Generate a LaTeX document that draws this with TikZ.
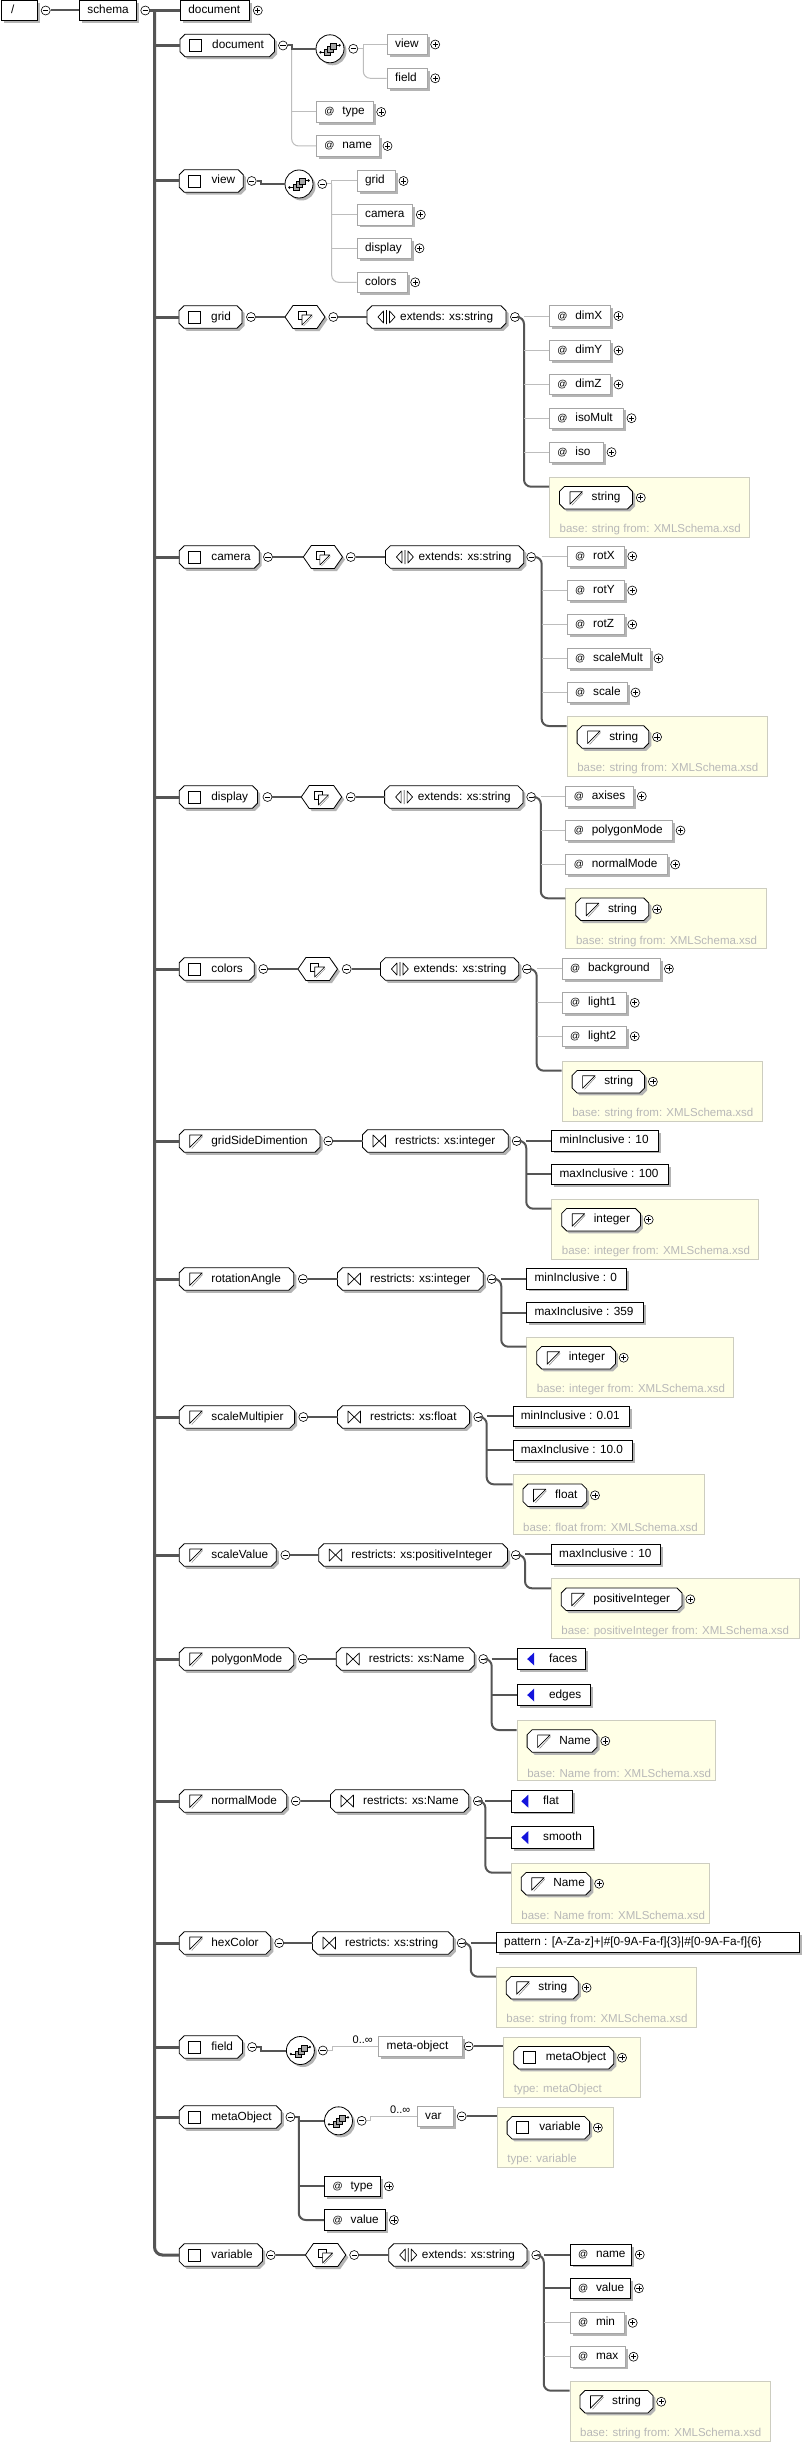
\documentclass[tikz,border=0pt]{standalone}
\usepackage{fontspec}
\setmainfont{Liberation Sans}
\usetikzlibrary{shadows}
\definecolor{linedk}{HTML}{555555}
\definecolor{linelt}{HTML}{BDBDBD}
\definecolor{shadowc}{HTML}{B4B4B4}
\definecolor{optc}{HTML}{A6A6A6}
\definecolor{yfill}{HTML}{FFFFE6}
\definecolor{yline}{HTML}{CDCDC0}
\definecolor{basec}{HTML}{B8B8B8}
\definecolor{enumc}{HTML}{1414DC}
\newcommand\dgfont{\fontsize{11.8}{14}\selectfont}
\newcommand\dgat{\makebox[18pt][l]{\fontsize{10}{10}\selectfont @}}
\tikzset{
 txt/.style={inner sep=0pt,font=\dgfont,text height=8.5pt,text depth=2.5pt},
 bx/.style={draw=black,line width=.8pt},
 rb/.style={txt,draw=black,fill=white,line width=.8pt,minimum height=20.5pt,
   drop shadow={shadow xshift=2.5pt,shadow yshift=-2.5pt,fill=shadowc,opacity=1}},
 ob/.style={rb,draw=optc},
 ybx/.style={draw=yline,fill=yfill,line width=.8pt,inner sep=0pt},
 basetxt/.style={inner sep=0pt,font=\fontsize{11.5}{13}\selectfont,text=basec},
 card/.style={inner sep=0pt,font=\fontsize{11}{13}\selectfont},
 mc/.style={circle,draw=black,fill=white,line width=.6pt,minimum size=9pt,inner sep=0pt,
   path picture={\draw[line width=.7pt] ([xshift=-2.6pt]path picture bounding box.center)--([xshift=2.6pt]path picture bounding box.center);}},
 pc/.style={circle,draw=black,fill=white,line width=.6pt,minimum size=9pt,inner sep=0pt,
   path picture={\draw[line width=.7pt] ([xshift=-2.6pt]path picture bounding box.center)--([xshift=2.6pt]path picture bounding box.center)
   ([yshift=-2.6pt]path picture bounding box.center)--([yshift=2.6pt]path picture bounding box.center);}},
 dk/.style={draw=linedk,line width=2pt},
 tr/.style={draw=linedk,line width=3pt},
 lt/.style={draw=linelt,line width=1pt},
}
% icons
\newcommand\icoElem[2]{\begin{scope}[shift={(#1,#2)}]\draw[line width=.8pt,fill=white] (9.5,-6) rectangle (21.5,6);\end{scope}}
\newcommand\icoSimple[2]{\begin{scope}[shift={(#1,#2)}]\draw[line width=.7pt,fill=white,line join=round] (10.5,6.5)--(10.5,-6)--(23,-6)--cycle;\draw[line width=.5pt,gray] (23.5,-4.5)--(12.5,7.5);\end{scope}}
\newcommand\icoRes[2]{\begin{scope}[shift={(#1,#2)}]\draw[line width=.7pt,line join=round] (10.5,-6)--(10.5,6)--(23,-6)--(23,6)--cycle;\end{scope}}
\newcommand\icoExt[2]{\begin{scope}[shift={(#1,#2)}]\draw[line width=.7pt,line join=round] (11,0)--(16.5,-6)--(16.5,6)--cycle (19.5,-7)--(19.5,7) (22.5,-6)--(22.5,6)--(28,0)--cycle;\end{scope}}
\newcommand\icoCC[2]{\begin{scope}[shift={(#1,#2)}]\draw[line width=.6pt,fill=white] (-7,-6) rectangle (1,2);\draw[line width=.6pt,fill=white,line join=round] (-3,8)--(-3,-2)--(7,-2)--cycle;\draw[line width=.4pt,gray] (7.5,-0.5)--(-1.5,9);\end{scope}}
\newcommand\icoSeq[2]{\begin{scope}[shift={(#1,#2)}]
 \draw[line width=.6pt] (-9.5,3.5)--(-4,3.5) (4,-3.5)--(9.5,-3.5);
 \fill (-9.5,3.5) circle (1.3pt) (9.5,-3.5) circle (1.3pt);
 \draw[line width=.5pt,fill=gray!70] (-5.5,0.5) rectangle (0.5,6.5);
 \draw[line width=.5pt,fill=gray!70] (-2.5,-2.5) rectangle (3.5,3.5);
 \draw[line width=.5pt,fill=gray!70] (0.5,-5.5) rectangle (6.5,0.5);
\end{scope}}
% boxes
\newcommand\rbox[7]{\pgfmathsetmacro\bw{#4-#3}\node[#1,anchor=west] (#2) at (#3,#5) {\makebox[\bw pt][l]{\hspace*{#6pt}#7}};}
\newcommand\refb[6]{\rbox{#1}{#2}{#3}{#4}{#5}{8}{#6}\node[pc] (#2p) at (#4+8.5,#5) {};}
\newcommand\attr[6]{\rbox{#1}{#2}{#3}{#4}{#5}{8}{\dgat #6}\node[pc] (#2p) at (#4+8.5,#5) {};}
\newcommand\facet[5]{\rbox{rb}{#1}{#2}{#3}{#4}{8}{#5}}
\newcommand\enumv[5]{\rbox{rb,minimum height=21.5pt}{#1}{#2}{#3}{#4}{32}{#5}\fill[enumc] (#2+10.5,#4)--(#2+17.5,#4-6.5)--(#2+17.5,#4+6.5)--cycle;}
\newcommand\chbox[7]{%
 \pgfmathsetmacro\cw{#3-#2}%
 \fill[shadowc,shift={(2.5pt,-2.5pt)}] (#2,#4-6.25)--(#2+5,#4-11.25)--(#3-5,#4-11.25)--(#3,#4-6.25)--(#3,#4+6.25)--(#3-5,#4+11.25)--(#2+5,#4+11.25)--(#2,#4+6.25)--cycle;
 \draw[bx,fill=white] (#2,#4-6.25)--(#2+5,#4-11.25)--(#3-5,#4-11.25)--(#3,#4-6.25)--(#3,#4+6.25)--(#3-5,#4+11.25)--(#2+5,#4+11.25)--(#2,#4+6.25)--cycle;
 #7{#2}{#4}%
 \node[txt,anchor=west,minimum height=22.5pt] (#1) at (#2,#4) {\makebox[\cw pt][l]{\hspace*{#5pt}#6}};}
\newcommand\hexb[4]{%
 \pgfmathsetmacro\hw{#3-#2}\pgfmathsetmacro\hxc{(#2+#3)/2}%
 \fill[shadowc,shift={(2.5pt,-2.5pt)}] (#2,#4)--(#2+8,#4-11.5)--(#3-8,#4-11.5)--(#3,#4)--(#3-8,#4+11.5)--(#2+8,#4+11.5)--cycle;
 \draw[bx,fill=white,line join=round] (#2,#4)--(#2+8,#4-11.5)--(#3-8,#4-11.5)--(#3,#4)--(#3-8,#4+11.5)--(#2+8,#4+11.5)--cycle;
 \icoCC{\hxc}{#4}%
 \node[anchor=west,minimum width=\hw pt,minimum height=23pt,inner sep=0pt] (#1) at (#2,#4) {};}
\newcommand\seqc[3]{%
 \fill[shadowc] (#2+2.5,#3+2.5) circle (14pt);
 \node[circle,draw=black,fill=white,line width=.8pt,minimum size=28pt,inner sep=0pt] (#1) at (#2,#3) {};
 \icoSeq{#2}{#3}}
\newcommand\ybox[9]{%
 \pgfmathsetmacro\yw{#3-#2}%
 \node[ybx,anchor=north west,minimum width=\yw pt,minimum height=60pt] (#1) at (#2,#4) {};
 \pgfmathsetmacro\yil{#2+10.4}\pgfmathsetmacro\yiy{#4+21}\pgfmathsetmacro\yby{#4+53}%
 \chbox{#5}{\yil}{#6}{\yiy}{32}{#7}{#9}%
 \node[pc] (#5p) at (#6+8.3,\yiy) {};
 \node[basetxt,anchor=west] (#5b) at (\yil,\yby) {#8};}
\begin{document}
\begin{tikzpicture}[x=1pt,y=-1pt]
\path[use as bounding box,fill=white] (0,0) rectangle (801,2443);
% ---------- top
\rbox{rb}{slash}{0.7}{36.7}{10.5}{10}{/}
\node[mc] (m0) at (45.7,10.5) {};
\rbox{rb}{schema}{79}{136}{10.5}{8}{schema}
\node[mc] (m1) at (145.3,10.5) {};
\refb{rb}{docref}{180}{249.3}{10.5}{document}
\coordinate (tk) at (154.5,10.5);
\draw[dk] (m0.east)--(schema.west);
\draw[tr] (m1.east)--(docref.west);
% ---------- document
\chbox{doc}{180}{274.5}{45.5}{32}{document}{\icoElem}
\node[mc] (md) at (283,45.5) {};
\seqc{cd}{330}{48.8}
\node[mc] (mcd) at (353.3,48.8) {};
\refb{ob}{rview}{386.7}{426.7}{44.5}{view}
\refb{ob}{rfield}{386.7}{426.7}{78.3}{field}
\attr{ob}{dtype}{316}{372.7}{112}{type}
\attr{ob}{dname}{316}{379}{146}{name}
\coordinate (bd) at (291.7,45.5);
\coordinate (bcd) at (363.3,48.8);
\draw[lt,rounded corners=7] (bd) |- (dname.west);
\draw[lt] (bd |- dtype.west) -- (dtype.west);
\draw[dk] (md.east) -- (bd) |- (cd.west);
\draw[lt] (mcd.east) -- (bcd) |- (rview.west);
\draw[lt,rounded corners=7] (bcd) |- (rfield.west);
% ---------- view
\chbox{view}{179.3}{243.3}{181}{32}{view}{\icoElem}
\node[mc] (mv) at (251.7,181) {};
\seqc{cv}{299}{184}
\node[mc] (mcv) at (322.3,184) {};
\refb{ob}{vgrid}{356.7}{395}{181}{grid}
\refb{ob}{vcam}{356.7}{412.3}{214.7}{camera}
\refb{ob}{vdisp}{356.7}{411}{248.3}{display}
\refb{ob}{vcol}{356.7}{406.7}{282.3}{colors}
\coordinate (bcv) at (331.7,184);
\draw[dk] (mv.east) -- ++(4,0) |- (cv.west);
\draw[lt] (mcv.east) -- (bcv) |- (vgrid.west);
\draw[lt] (bcv) |- (vcam.west);
\draw[lt] (bcv) |- (vdisp.west);
\draw[lt,rounded corners=7] (bcv) |- (vcol.west);
% ---------- grid
\chbox{grid}{179}{242}{317}{32}{grid}{\icoElem}
\node[mc] (g1) at (251,317) {};
\hexb{gh}{285}{325}{317}
\node[mc] (g2) at (333.3,317) {};
\chbox{gx}{367}{506}{317}{33}{extends: xs:string}{\icoExt}
\node[mc] (g3) at (515,317) {};
\coordinate (gb) at (524,317);
\attr{ob}{gdx}{549}{610}{316}{dimX}
\attr{ob}{gdy}{549}{610}{350.5}{dimY}
\attr{ob}{gdz}{549}{610}{384.5}{dimZ}
\attr{ob}{gim}{549}{623}{418.2}{isoMult}
\attr{ob}{gis}{549}{603}{452.2}{iso}
\ybox{gy}{549}{749}{476.7}{gst}{632.5}{string}{base: string from: XMLSchema.xsd}{\icoSimple}
\draw[dk] (g1.east)--(gh.west) (g2.east)--(gx.west);
\draw[dk,rounded corners=7] (g3.east)--(gb)|-([yshift=-10pt]gy.north west);
\foreach \a in {gdx,gdy,gdz,gim,gis} \draw[lt] (gb |- \a.west)--(\a.west);
% ---------- camera
\chbox{cam}{179.2}{259.2}{557}{32}{camera}{\icoElem}
\node[mc] (c1) at (268,557) {};
\hexb{ch}{303.3}{342.5}{557}
\node[mc] (c2) at (350.8,557) {};
\chbox{cx}{385.4}{523.75}{557}{33}{extends: xs:string}{\icoExt}
\node[mc] (c3) at (531.25,557) {};
\coordinate (cb) at (541.7,557);
\attr{ob}{crx}{566.7}{623.75}{556.3}{rotX}
\attr{ob}{cry}{566.7}{623.75}{590.5}{rotY}
\attr{ob}{crz}{566.7}{623.75}{624.5}{rotZ}
\attr{ob}{csm}{566.7}{650}{658.3}{scaleMult}
\attr{ob}{csc}{566.7}{627}{692.5}{scale}
\ybox{cy}{566.7}{766.7}{716}{cst}{648.75}{string}{base: string from: XMLSchema.xsd}{\icoSimple}
\draw[dk] (c1.east)--(ch.west) (c2.east)--(cx.west);
\draw[dk,rounded corners=7] (c3.east)--(cb)|-([yshift=-10pt]cy.north west);
\foreach \a in {crx,cry,crz,csm,csc} \draw[lt] (cb |- \a.west)--(\a.west);
% ---------- display
\chbox{disp}{179.2}{257.5}{797}{32}{display}{\icoElem}
\node[mc] (d1) at (267.5,797) {};
\hexb{dh}{301.25}{341.7}{797}
\node[mc] (d2) at (350.8,797) {};
\chbox{dx}{384.6}{522.9}{797}{33}{extends: xs:string}{\icoExt}
\node[mc] (d3) at (531.25,797) {};
\coordinate (db) at (540.8,797);
\attr{ob}{dax}{565.4}{633.3}{796.3}{axises}
\attr{ob}{dpm}{565.4}{672}{830.5}{polygonMode}
\attr{ob}{dnm}{565.4}{666.7}{864.5}{normalMode}
\ybox{dy}{565.4}{765.8}{888.3}{dst}{648.75}{string}{base: string from: XMLSchema.xsd}{\icoSimple}
\draw[dk] (d1.east)--(dh.west) (d2.east)--(dx.west);
\draw[dk,rounded corners=7] (d3.east)--(db)|-([yshift=-10pt]dy.north west);
\foreach \a in {dax,dpm,dnm} \draw[lt] (db |- \a.west)--(\a.west);
% ---------- colors
\chbox{cols}{179.2}{254.2}{969}{32}{colors}{\icoElem}
\node[mc] (k1) at (263.3,969) {};
\hexb{kh}{297.9}{337.5}{969}
\node[mc] (k2) at (346.7,969) {};
\chbox{kx}{380.4}{518.75}{969}{33}{extends: xs:string}{\icoExt}
\node[mc] (k3) at (527,969) {};
\coordinate (kb) at (536.7,969);
\attr{ob}{kbg}{561.7}{660.4}{968.8}{background}
\attr{ob}{kla}{561.7}{626.25}{1002.8}{light1}
\attr{ob}{klb}{561.7}{626.25}{1036.3}{light2}
\ybox{ky}{561.7}{761.7}{1060.7}{kst}{644.6}{string}{base: string from: XMLSchema.xsd}{\icoSimple}
\draw[dk] (k1.east)--(kh.west) (k2.east)--(kx.west);
\draw[dk,rounded corners=7] (k3.east)--(kb)|-([yshift=-10pt]ky.north west);
\foreach \a in {kbg,kla,klb} \draw[lt] (kb |- \a.west)--(\a.west);
% ---------- gridSideDimention
\chbox{gsd}{179.2}{320}{1141}{32}{gridSideDimention}{\icoSimple}
\node[mc] (s1) at (328.3,1141) {};
\chbox{sr}{362.5}{508.3}{1141}{32.5}{restricts: xs:integer}{\icoRes}
\node[mc] (s2) at (516.7,1141) {};
\coordinate (sb) at (526.25,1141);
\facet{sfa}{551.25}{658.3}{1140.7}{minInclusive : 10}
\facet{sfb}{551.25}{668}{1174.3}{maxInclusive : 100}
\ybox{sy}{551.25}{757.5}{1198.7}{sst}{640.4}{integer}{base: integer from: XMLSchema.xsd}{\icoSimple}
\draw[dk] (s1.east)--(sr.west);
\draw[dk,rounded corners=7] (s2.east)--(sb)|-([yshift=-10pt]sy.north west);
\foreach \a in {sfa,sfb} \draw[dk] (sb |- \a.west)--(\a.west);
% ---------- rotationAngle
\chbox{rot}{179.2}{293.75}{1279}{32}{rotationAngle}{\icoSimple}
\node[mc] (r1) at (302.9,1279) {};
\chbox{rr}{337.5}{483.3}{1279}{32.5}{restricts: xs:integer}{\icoRes}
\node[mc] (r2) at (491.7,1279) {};
\coordinate (rbr) at (501.25,1279);
\facet{rfa}{526.25}{625.8}{1278.7}{minInclusive : 0}
\facet{rfb}{526.25}{642.9}{1312.5}{maxInclusive : 359}
\ybox{ry}{526.25}{732.5}{1336.7}{rst}{615.4}{integer}{base: integer from: XMLSchema.xsd}{\icoSimple}
\draw[dk] (r1.east)--(rr.west);
\draw[dk,rounded corners=7] (r2.east)--(rbr)|-([yshift=-10pt]ry.north west);
\foreach \a in {rfa,rfb} \draw[dk] (rbr |- \a.west)--(\a.west);
% ---------- scaleMultipier
\chbox{smul}{179.2}{294.6}{1417}{32}{scaleMultipier}{\icoSimple}
\node[mc] (u1) at (303.3,1417) {};
\chbox{ur}{337.5}{469.6}{1417}{32.5}{restricts: xs:float}{\icoRes}
\node[mc] (u2) at (478.3,1417) {};
\coordinate (ub) at (486.7,1417);
\facet{ufa}{512.5}{629.2}{1416.3}{minInclusive : 0.01}
\facet{ufb}{512.5}{632}{1450.3}{maxInclusive : 10.0}
\ybox{uy}{512.5}{704.2}{1474.3}{ust}{586.7}{float}{base: float from: XMLSchema.xsd}{\icoSimple}
\draw[dk] (u1.east)--(ur.west);
\draw[dk,rounded corners=7] (u2.east)--(ub)|-([yshift=-10pt]uy.north west);
\foreach \a in {ufa,ufb} \draw[dk] (ub |- \a.west)--(\a.west);
% ---------- scaleValue
\chbox{sval}{179.2}{276.25}{1555}{32}{scaleValue}{\icoSimple}
\node[mc] (v1) at (285.4,1555) {};
\chbox{vr}{318.75}{507.5}{1555}{32.5}{restricts: xs:positiveInteger}{\icoRes}
\node[mc] (v2) at (515.8,1555) {};
\coordinate (vb) at (525,1555);
\facet{vfa}{550.8}{659.6}{1554.3}{maxInclusive : 10}
\ybox{vy}{550.8}{798.75}{1578.3}{vst}{682}{positiveInteger}{base: positiveInteger from: XMLSchema.xsd}{\icoSimple}
\draw[dk] (v1.east)--(vr.west);
\draw[dk,rounded corners=7] (v2.east)--(vb)|-([yshift=-10pt]vy.north west);
\draw[dk] (vb |- vfa.west)--(vfa.west);
% ---------- polygonMode
\chbox{poly}{179.2}{293.75}{1659}{32}{polygonMode}{\icoSimple}
\node[mc] (p1) at (302.9,1659) {};
\chbox{pr}{336.25}{474.2}{1659}{32.5}{restricts: xs:Name}{\icoRes}
\node[mc] (p2) at (483.3,1659) {};
\coordinate (pb) at (491.7,1659);
\enumv{pea}{516.7}{585.4}{1659}{faces}
\enumv{peb}{516.7}{589.6}{1695}{edges}
\ybox{py}{516.7}{715.4}{1720}{pst}{597}{Name}{base: Name from: XMLSchema.xsd}{\icoSimple}
\draw[dk] (p1.east)--(pr.west);
\draw[dk,rounded corners=7] (p2.east)--(pb)|-([yshift=-10pt]py.north west);
\foreach \a in {pea,peb} \draw[dk] (pb |- \a.west)--(\a.west);
% ---------- normalMode
\chbox{norm}{179.2}{286.7}{1801}{32}{normalMode}{\icoSimple}
\node[mc] (n1) at (295.8,1801) {};
\chbox{nr}{330.4}{468.75}{1801}{32.5}{restricts: xs:Name}{\icoRes}
\node[mc] (n2) at (477.9,1801) {};
\coordinate (nb) at (485.4,1801);
\enumv{nea}{510.8}{571.7}{1801.2}{flat}
\enumv{neb}{510.8}{592.5}{1837.5}{smooth}
\ybox{ny}{510.8}{709.2}{1862.7}{nst}{590.8}{Name}{base: Name from: XMLSchema.xsd}{\icoSimple}
\draw[dk] (n1.east)--(nr.west);
\draw[dk,rounded corners=7] (n2.east)--(nb)|-([yshift=-10pt]ny.north west);
\foreach \a in {nea,neb} \draw[dk] (nb |- \a.west)--(\a.west);
% ---------- hexColor
\chbox{hexc}{179.2}{270.8}{1943}{32}{hexColor}{\icoSimple}
\node[mc] (h1) at (279.2,1943) {};
\chbox{hr}{312.5}{453.3}{1943}{32.5}{restricts: xs:string}{\icoRes}
\node[mc] (h2) at (461.7,1943) {};
\coordinate (hb) at (470.8,1943);
\facet{hfa}{495.8}{798.75}{1942.5}{pattern : [A-Za-z]+|\#[0-9A-Fa-f]\{3\}|\#[0-9A-Fa-f]\{6\}}
\ybox{hy}{495.8}{695.8}{1966.7}{hst}{578.3}{string}{base: string from: XMLSchema.xsd}{\icoSimple}
\draw[dk] (h1.east)--(hr.west);
\draw[dk,rounded corners=7] (h2.east)--(hb)|-([yshift=-10pt]hy.north west);
\draw[dk] (hb |- hfa.west)--(hfa.west);
% ---------- field
\chbox{fld}{179.2}{242.5}{2047}{32}{field}{\icoElem}
\node[mc] (f1) at (252.1,2047) {};
\seqc{cf}{300.4}{2050.5}
\node[mc] (mcf) at (322.9,2050.5) {};
\coordinate (bcf) at (332.5,2050.5);
\rbox{ob}{metaref}{378.3}{461.7}{2046.3}{8}{meta-object}
\node[card,anchor=base east] (cardf) at (373,2043) {0..∞};
\node[mc] (mmeta) at (468.75,2046.3) {};
\ybox{ymo}{503.3}{639.6}{2036.7}{mobj}{613.75}{metaObject}{type: metaObject}{\icoElem}
\draw[dk] (f1.east) -- ++(4,0) |- (cf.west);
\draw[lt] (mcf.east) -- (bcf) |- (metaref.west);
\draw[dk] (mmeta.east) -- (ymo.west |- mmeta.east);
% ---------- metaObject
\chbox{mob}{179.2}{281.25}{2117}{32}{metaObject}{\icoElem}
\node[mc] (o1) at (290.4,2117) {};
\coordinate (bmo) at (298.75,2117);
\seqc{co}{338.5}{2120.8}
\node[mc] (mco) at (361.7,2120.8) {};
\coordinate (bco) at (370.8,2120.8);
\rbox{ob}{varref}{416.7}{453.3}{2116.3}{8}{var}
\node[card,anchor=base east] (cardv) at (410.4,2113) {0..∞};
\node[mc] (mvr) at (461.7,2116.3) {};
\ybox{yvr}{496.7}{613.3}{2106.7}{vobj}{589.6}{variable}{type: variable}{\icoElem}
\attr{rb}{otype}{324.2}{380.4}{2186.3}{type}
\attr{rb}{oval}{324.2}{385.4}{2220}{value}
\draw[dk] (o1.east) -- (bmo) |- (co.west);
\draw[dk,rounded corners=7] (bmo) |- (oval.west);
\draw[dk] (bmo |- otype.west) -- (otype.west);
\draw[lt] (mco.east) -- (bco) |- (varref.west);
\draw[dk] (mvr.east) -- (yvr.west |- mvr.east);
% ---------- variable
\chbox{var}{179.2}{262.5}{2255}{32}{variable}{\icoElem}
\node[mc] (w1) at (270.8,2255) {};
\hexb{wh}{305.4}{345.8}{2255}
\node[mc] (w2) at (354.2,2255) {};
\chbox{wx}{388.75}{527}{2255}{33}{extends: xs:string}{\icoExt}
\node[mc] (w3) at (536.25,2255) {};
\coordinate (wb) at (543.75,2255);
\attr{rb}{wna}{569.6}{631.25}{2254.7}{name}
\attr{rb}{wva}{569.6}{630.4}{2288.3}{value}
\attr{ob}{wmi}{569.6}{624.2}{2322.8}{min}
\attr{ob}{wma}{569.6}{625}{2356.7}{max}
\ybox{wy}{569.6}{769.6}{2380.7}{wst}{652.9}{string}{base: string from: XMLSchema.xsd}{\icoSimple}
\draw[dk] (w1.east)--(wh.west) (w2.east)--(wx.west);
\draw[dk,rounded corners=7] (w3.east)--(wb)|-([yshift=-10pt]wy.north west);
\foreach \a in {wna,wva} \draw[dk] (wb |- \a.west)--(\a.west);
\foreach \a in {wmi,wma} \draw[lt] (wb |- \a.west)--(\a.west);
% ---------- trunk
\draw[tr,rounded corners=8] (tk) |- (var.west);
\foreach \a in {doc,view,grid,cam,disp,cols,gsd,rot,smul,sval,poly,norm,hexc,fld,mob}
  \draw[tr] (tk |- \a.west) -- (\a.west);
\end{tikzpicture}
\end{document}
